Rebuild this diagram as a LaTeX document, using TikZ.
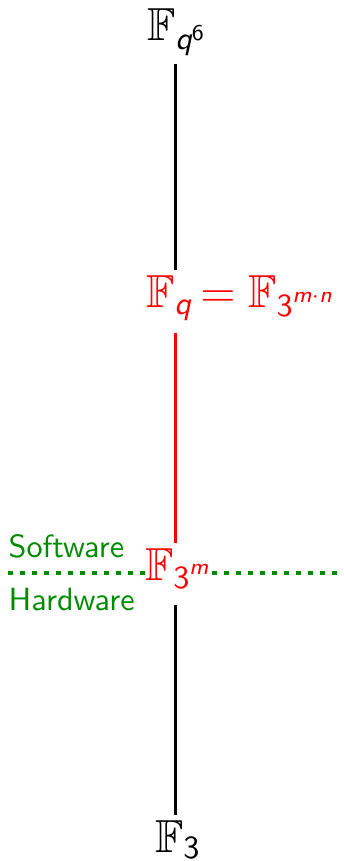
\documentclass[tikz,border=0pt]{standalone}
\usepackage{amsmath}
\usepackage{amssymb}
\newcommand{\sv}[1]{\text{\sffamily\itshape #1}}
\newcommand{\su}[1]{\text{\sffamily #1}}
\newcommand{\FF}{\mathbb{F}}
\begin{document}
\begin{tikzpicture}[x=0.311pt,y=-0.311pt,
  font=\fontsize{10}{12}\selectfont\sffamily,
  lab/.style={inner sep=0pt, outer sep=0pt, font=\fontsize{14.4}{17}\selectfont\sffamily},
  conn/.style={line width=0.93pt},
  sep/.style={draw=green!55!black, line width=1.55pt, dash pattern=on 1.55pt off 2.18pt}]
\useasboundingbox (0,0) rectangle (343,861);
\coordinate (L) at (8,573);
\coordinate (R) at (343,573);
\draw[sep] (L) -- (R);
\node[lab, anchor=base west] (top) at (147,41) {$\FF_{\sv{q}^{\su{6}}}$};
\node[lab, anchor=base west, text=red] (fq) at (146,308) {$\FF_{\sv{q}}$};
\node[lab, anchor=base west, text=red] (eq) at (fq.base east) {$\,=\FF_{\su{3}^{\sv{m}\cdot\sv{n}}}$};
\node[lab, anchor=base west, text=red, fill=white] (f3m) at (145,580) {$\FF_{\su{3}^{\sv{m}}}$};
\node[lab, anchor=base west] (f3) at (155,852) {$\FF_{\su{3}}$};
\node[inner sep=0pt, anchor=base west, text=green!55!black] (sw) at (8,558) {Software};
\node[inner sep=0pt, anchor=base west, text=green!55!black] (hw) at (8,610) {Hardware};
\coordinate (a1) at (175,64);
\coordinate (a2) at (175,270);
\coordinate (b1) at (175,333);
\coordinate (b2) at (175,543);
\coordinate (c1) at (175,605);
\coordinate (c2) at (175,815);
\draw[conn] (a1) -- (a2);
\draw[conn, red] (b1) -- (b2);
\draw[conn] (c1) -- (c2);
\end{tikzpicture}
\end{document}
